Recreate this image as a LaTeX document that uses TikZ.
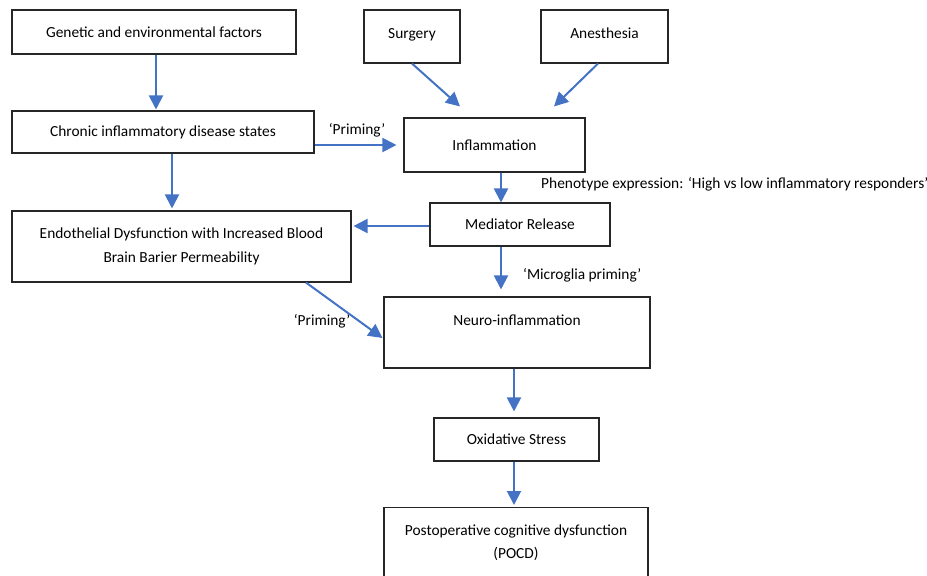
\documentclass[tikz,border=0pt]{standalone}
\usepackage{fontspec}
\setmainfont{Carlito}
\usetikzlibrary{arrows.meta,calc}
\definecolor{arrowblue}{HTML}{4472C4}
\begin{document}
\begin{tikzpicture}[x=1pt,y=-1pt,
  box/.style={draw=black!85, line width=1.1pt, font=\fontsize{15.4}{23.5}\selectfont, align=center, inner sep=0pt, text=black},
  flow/.style={draw=arrowblue, line width=2pt, -{Triangle[length=14pt,width=14pt]}},
  lbl/.style={font=\fontsize{15.4}{18}\selectfont, inner sep=0pt, text=black}]
\useasboundingbox[fill=white] (0,0) rectangle (927,576);

\node[box, minimum width=284pt, minimum height=44pt] (gen) at (154,32) {Genetic and environmental factors};
\node[box, minimum width=302pt, minimum height=42pt] (chr) at (163,132) {Chronic inflammatory disease states};
\node[box, minimum width=96pt, minimum height=53pt] (sur) at (412,36.5) {\raisebox{5pt}{Surgery}};
\node[box, minimum width=127pt, minimum height=53pt] (ane) at (604.5,36.5) {\raisebox{6pt}{Anesthesia}};
\node[box, minimum width=181pt, minimum height=54pt] (inf) at (494.5,145) {Inflammation};
\node[box, minimum width=180pt, minimum height=43pt] (med) at (520,224.5) {Mediator Release};
\node[box, minimum width=339pt, minimum height=71pt] (endo) at (181.5,246.5) {Endothelial Dysfunction with Increased Blood\\Brain Barier Permeability};
\node[box, minimum width=266pt, minimum height=71pt] (neuro) at (517,332.5) {Neuro-inflammation\\[-6pt]\strut};
\node[box, minimum width=165pt, minimum height=43pt] (oxi) at (516.5,439.5) {Oxidative Stress};
\node[box, minimum width=264pt, minimum height=70.5pt, anchor=north] (pocd) at (516,507) {Postoperative cognitive dysfunction\\(POCD)};

\node[lbl] (prim1) at (357,130) {‘Priming’};
\node[lbl, anchor=west] (pheno) at (541,184) {Phenotype expression: ‘High vs low inflammatory responders’};
\node[lbl, anchor=west] (micro) at (523,275) {‘Microglia priming’};
\node[lbl] (prim2) at (322,321) {‘Priming’};

\draw[flow] ($(gen.south)+(2,0)$) -- ($(gen.south |- chr.north)+(2,-1)$);
\draw[flow] ($(chr.south)+(9,0)$) -- ($(chr.south |- endo.north)+(9,-2)$);
\draw[flow] (sur.south) -- ($(inf.north)+(-34.5,-11)$);
\draw[flow] ($(ane.south)+(-6.5,0)$) -- ($(inf.north)+(59.5,-11)$);
\draw[flow] (chr.east |- inf.west) -- ($(inf.west)+(-7,0)$);
\draw[flow] ($(inf.south)+(6.5,0)$) -- ($(inf.south |- med.north)+(6.5,0)$);
\draw[flow] ($(med.west)+(0,1.5)$) -- ($(med.west -| endo.east)+(2,1.5)$);
\draw[flow] ($(med.south)+(-19,0)$) -- ($(neuro.north)+(-16,-7)$);
\draw[flow] ($(endo.south)+(124.5,0)$) -- ($(neuro.west)+(-1,5.5)$);
\draw[flow] ($(neuro.south)+(-3,0)$) -- ($(oxi.north)+(-2.5,-6)$);
\draw[flow] ($(oxi.south)+(-2.5,0)$) -- ($(pocd.north)+(-2,-2)$);
\end{tikzpicture}
\end{document}
